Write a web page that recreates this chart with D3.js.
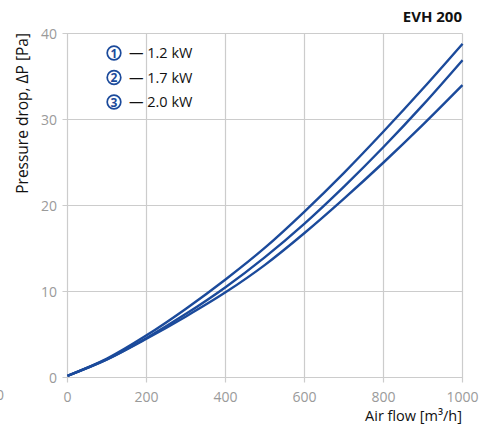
<!DOCTYPE html>
<html><head><meta charset="utf-8">
<script src="https://cdn.jsdelivr.net/npm/d3@7"></script>
<style>body{margin:0;background:#fff}svg{display:block}</style>
</head><body>
<svg id="c" width="495" height="425"></svg>
<script>
const airflow = [0, 100, 200, 300, 400, 500, 600, 700, 800, 900, 1000];
const p12 = [0.2, 2.2, 4.9, 8.0, 11.4, 15.1, 19.3, 23.8, 28.6, 33.6, 38.8];
const p17 = [0.2, 2.1, 4.6, 7.4, 10.5, 14.0, 17.9, 22.2, 26.8, 31.7, 36.9];
const p20 = [0.2, 2.1, 4.5, 7.1, 9.9, 13.1, 16.8, 20.8, 25.0, 29.4, 34.0];
const seriesNames = ["1.2 kW", "1.7 kW", "2.0 kW"];
const xTicks = [0, 200, 400, 600, 800, 1000];
const yTicks = [0, 10, 20, 30, 40];
const title = "EVH 200";

const svg = d3.select("#c");
const font = "'Open Sans', 'Noto Sans', sans-serif";
const x = d3.scaleLinear().domain([0, 1000]).range([67.5, 462.5]);
const y = d3.scaleLinear().domain([0, 40]).range([377.5, 33.5]);
const grid = "#cccccc", tickCol = "#9a9a9a", blue = "#1b4a9b";

// grid
svg.append("g").selectAll("line").data(xTicks).join("line")
  .attr("x1", d => x(d)).attr("x2", d => x(d)).attr("y1", y(40)).attr("y2", y(0) + 5)
  .attr("stroke", grid).attr("stroke-width", 1.2);
svg.append("g").selectAll("line").data(yTicks).join("line")
  .attr("x1", x(0) - 5).attr("x2", x(1000)).attr("y1", d => y(d)).attr("y2", d => y(d))
  .attr("stroke", grid).attr("stroke-width", 1.2);

// tick labels
svg.append("g").selectAll("text").data(xTicks).join("text")
  .attr("x", d => x(d)).attr("y", 402).attr("text-anchor", "middle")
  .attr("font-family", font).attr("font-size", 14).attr("fill", tickCol).text(d => d);
svg.append("g").selectAll("text").data(yTicks).join("text")
  .attr("x", 57).attr("y", d => y(d) + 5).attr("text-anchor", "end")
  .attr("font-family", font).attr("font-size", 14).attr("fill", tickCol).text(d => d);
// stray clipped label at left edge
svg.append("text").attr("x", -4).attr("y", 400).attr("font-family", font)
  .attr("font-size", 14).attr("fill", tickCol).text("0");

// axis titles
svg.append("text").attr("x", 462).attr("y", 421).attr("text-anchor", "end")
  .attr("font-family", font).attr("font-size", 14.5).attr("fill", "#111").text("Air flow [m³/h]");
svg.append("text").attr("transform", "translate(28,33) rotate(-90)").attr("text-anchor", "end")
  .attr("font-family", font).attr("font-size", 15.5).attr("fill", "#111").text("Pressure drop, ΔP [Pa]");
svg.append("text").attr("x", 462).attr("y", 22).attr("text-anchor", "end")
  .attr("font-family", font).attr("font-size", 15).attr("font-weight", "bold").attr("fill", "#111").text(title);

// curves
const line = d3.line().x((d, i) => x(airflow[i])).y(d => y(d)).curve(d3.curveMonotoneX);
svg.append("g").selectAll("path").data([p12, p17, p20]).join("path")
  .attr("d", line).attr("fill", "none").attr("stroke", blue).attr("stroke-width", 2.4);

// legend
const lg = svg.append("g").selectAll("g").data(seriesNames).join("g")
  .attr("transform", (d, i) => `translate(114,${53 + i * 24.5})`);
lg.append("circle").attr("r", 6.8).attr("fill", "none").attr("stroke", blue).attr("stroke-width", 1.7);
lg.append("text").attr("y", 4.6).attr("text-anchor", "middle").attr("font-family", font)
  .attr("font-size", 12).attr("font-weight", "bold").attr("fill", blue).text((d, i) => i + 1);
lg.append("text").attr("x", 15).attr("y", 5).attr("font-family", font).attr("font-size", 14.5)
  .attr("fill", "#111").text(d => "— " + d);
</script>
</body></html>
